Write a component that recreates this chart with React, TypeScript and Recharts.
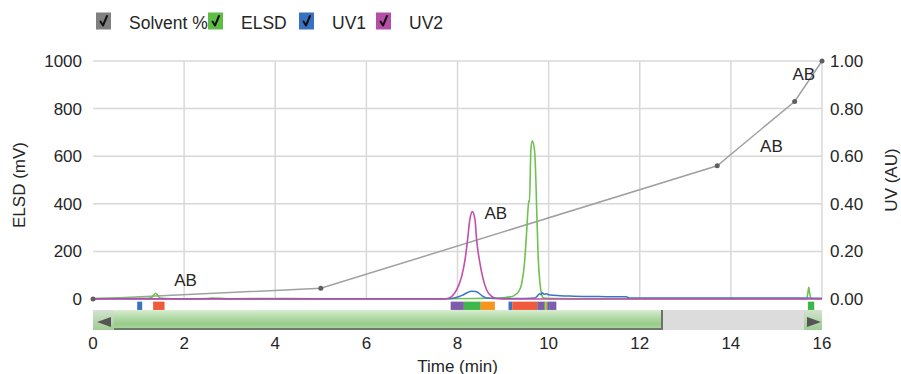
import React from 'react';
import { ComposedChart, Line, XAxis, YAxis, ReferenceLine, ReferenceArea, ReferenceDot } from 'recharts';

// ---------------- data ----------------
const timeTicks = [0, 2, 4, 6, 8, 10, 12, 14, 16];
const elsdTicks = [0, 200, 400, 600, 800, 1000];
const uvTicks = [0, 0.2, 0.4, 0.6, 0.8, 1.0];

const solventTime = [0, 5, 13.7, 15.4, 16];
const solventPercent = [0, 4.5, 56, 83, 100];

const elsdTime = [0, 0.3, 0.6, 0.9, 1.2, 1.28, 1.33, 1.375, 1.42, 1.47, 1.6, 2.0, 2.5, 2.6, 2.8, 3.0, 4.0, 4.9, 6.0, 7.0, 7.8, 8.4, 8.6, 8.9, 9.05, 9.15, 9.23, 9.34, 9.41, 9.47, 9.52, 9.555, 9.57, 9.58, 9.61, 9.64, 9.69, 9.72, 9.74, 9.77, 9.81, 9.85, 9.88, 9.95, 10.2, 11, 12, 13, 14, 15, 15.66, 15.69, 15.71, 15.73, 15.76, 16];
const elsdMv = [2, 3, 4, 3, 3, 5, 16, 24, 16, 4, 2, 1, 2, 4, 3, 1, 2, 1, 1, 1, 1, 2, 3, 4, 6, 9, 13, 31, 66, 150, 290, 395, 415, 408, 626, 665, 626, 500, 360, 178, 66, 17, 5, 3, 2, 1, 1, 1, 1, 1, 1, 25, 49, 25, 1, 1];

const uv1Time = [0, 7.8, 7.95, 8.1, 8.2, 8.31, 8.4, 8.46, 8.55, 8.64, 8.8, 9.5, 9.7, 9.75, 9.8, 9.83, 9.86, 9.9, 9.95, 10.0, 10.25, 10.54, 11.1, 11.7, 11.78, 15.5, 16];
const uv1Au = [0.001, 0.001, 0.005, 0.015, 0.025, 0.033, 0.032, 0.026, 0.012, 0.004, 0.002, 0.002, 0.004, 0.012, 0.022, 0.018, 0.026, 0.02, 0.022, 0.018, 0.014, 0.012, 0.01, 0.009, 0.004, 0.004, 0.003];

const uv2Time = [0, 7.0, 7.69, 7.8, 7.87, 7.98, 8.09, 8.165, 8.22, 8.27, 8.325, 8.385, 8.42, 8.48, 8.55, 8.64, 8.75, 8.86, 9.0, 10.0, 12, 16];
const uv2Au = [0, 0, 0, 0.003, 0.01, 0.038, 0.094, 0.164, 0.248, 0.332, 0.367, 0.332, 0.248, 0.164, 0.094, 0.038, 0.011, 0.002, 0, 0, 0, 0];

const fractionStart = [0.97, 1.32, 7.85, 8.14, 8.51, 9.12, 9.2, 9.75, 9.9, 9.93, 9.97, 10.01, 15.69];
const fractionEnd = [1.08, 1.57, 8.14, 8.51, 8.82, 9.2, 9.75, 9.9, 9.93, 9.97, 10.01, 10.17, 15.83];
const fractionTube = ['blue', 'red', 'purple', 'green', 'orange', 'blue', 'red', 'purple', 'green', 'orange', 'blue', 'purple', 'green'];

const annotationTime = [2.03, 8.84, 14.89, 15.6];
const annotationLevel = [79, 358, 639, 945];
const annotationText = ['AB', 'AB', 'AB', 'AB'];

const seriesNames = ['Solvent %', 'ELSD', 'UV1', 'UV2'];

// ---------------- styles ----------------
const W = 901;
const H = 374;
const FONT = '"Liberation Sans", Arial, sans-serif';
const TEXT = '#262626';
const GRID = '#d8d8d8';
const tubeColor: Record<string, string> = {
  blue: '#3b72c4',
  red: '#ef5a3c',
  purple: '#7d5ca8',
  green: '#3fb64a',
  orange: '#f7941e',
};
const seriesColor = ['#a0a0a0', '#6fc251', '#3d74c6', '#c24ea8'];
const legendBoxColor = ['#808080', '#5fbd46', '#3a70c0', '#b54ea6'];
const legendLeft = [96, 208, 299, 376];
const FRACTION_BAND: [number, number] = [-11, -46];

const toPts = (t: number[], v: number[]) => t.map((x, i) => ({ t: x, v: v[i] }));
const solventData = toPts(solventTime, solventPercent);
const elsdData = toPts(elsdTime, elsdMv);
const uv1Data = toPts(uv1Time, uv1Au);
const uv2Data = toPts(uv2Time, uv2Au);

const LeftTitle = (props: any) => {
  const vb = props.viewBox;
  const cx = vb.x + 19;
  const cy = vb.y + vb.height / 2 + 5;
  return (
    <text x={cx} y={cy} transform={`rotate(-90 ${cx} ${cy})`} textAnchor="middle" dominantBaseline="central" fontSize={17} fill={TEXT} fontFamily={FONT}>
      ELSD (mV)
    </text>
  );
};
const RightTitle = (props: any) => {
  const vb = props.viewBox;
  const cx = vb.x + 69;
  const cy = vb.y + vb.height / 2;
  return (
    <text x={cx} y={cy} transform={`rotate(-90 ${cx} ${cy})`} textAnchor="middle" dominantBaseline="central" fontSize={17} fill={TEXT} fontFamily={FONT}>
      UV (AU)
    </text>
  );
};
const BottomTitle = (props: any) => {
  const vb = props.viewBox;
  return (
    <text x={vb.x + vb.width / 2} y={vb.y + 72.5} textAnchor="middle" fontSize={17} fill={TEXT} fontFamily={FONT}>
      Time (min)
    </text>
  );
};

export default function App() {
  return (
    <div style={{ position: 'absolute', left: 0, top: 0, width: W, height: H, background: '#fff', fontFamily: FONT }}>
      <ComposedChart width={W} height={H} margin={{ top: 61, right: 0, bottom: 0, left: 0 }}>
        <XAxis
          type="number"
          dataKey="t"
          domain={[0, 16]}
          ticks={timeTicks}
          axisLine={false}
          tickLine={false}
          tickSize={0}
          tickMargin={38}
          height={75}
          tick={{ fontSize: 17, fill: TEXT, fontFamily: FONT }}
          label={<BottomTitle />}
        />
        <YAxis
          yAxisId="elsd"
          domain={[0, 1000]}
          ticks={elsdTicks}
          axisLine={false}
          tickLine={false}
          tickSize={0}
          tickMargin={11}
          width={93}
          tick={{ fontSize: 17, fill: TEXT, fontFamily: FONT }}
          label={<LeftTitle />}
        />
        <YAxis
          yAxisId="uv"
          orientation="right"
          domain={[0, 1]}
          ticks={uvTicks}
          tickFormatter={(v: number) => v.toFixed(2)}
          axisLine={false}
          tickLine={false}
          tickSize={0}
          tickMargin={8}
          width={79}
          tick={{ fontSize: 17, fill: TEXT, fontFamily: FONT }}
          label={<RightTitle />}
        />
        <YAxis yAxisId="solvent" hide domain={[0, 100]} />

        {timeTicks.filter((t) => t > 0).map((t) => (
          <ReferenceLine key={'gx' + t} yAxisId="elsd" x={t} stroke={GRID} strokeWidth={1.5} />
        ))}
        {elsdTicks.filter((v) => v > 0).map((v) => (
          <ReferenceLine key={'gy' + v} yAxisId="elsd" y={v} stroke={GRID} strokeWidth={1.5} />
        ))}

        {fractionStart.map((s, i) => (
          <ReferenceArea
            key={'fr' + i}
            yAxisId="elsd"
            x1={s}
            x2={fractionEnd[i]}
            y1={FRACTION_BAND[0]}
            y2={FRACTION_BAND[1]}
            fill={tubeColor[fractionTube[i]]}
            fillOpacity={1}
            stroke="none"
            ifOverflow="visible"
          />
        ))}

        <Line
          data={solventData}
          dataKey="v"
          yAxisId="solvent"
          type="linear"
          stroke={seriesColor[0]}
          strokeWidth={1.5}
          dot={{ r: 2.5, fill: '#5f5f5f', stroke: 'none' }}
          isAnimationActive={false}
          name={seriesNames[0]}
        />
        <Line
          data={elsdData}
          dataKey="v"
          yAxisId="elsd"
          type="monotone"
          stroke={seriesColor[1]}
          strokeWidth={1.6}
          dot={false}
          isAnimationActive={false}
          name={seriesNames[1]}
        />
        <Line
          data={uv1Data}
          dataKey="v"
          yAxisId="uv"
          type="monotone"
          stroke={seriesColor[2]}
          strokeWidth={1.5}
          dot={false}
          isAnimationActive={false}
          name={seriesNames[2]}
        />
        <Line
          data={uv2Data}
          dataKey="v"
          yAxisId="uv"
          type="monotone"
          stroke={seriesColor[3]}
          strokeWidth={1.6}
          dot={false}
          isAnimationActive={false}
          name={seriesNames[3]}
        />

        {annotationTime.map((t, i) => (
          <ReferenceDot
            key={'ab' + i}
            yAxisId="elsd"
            x={t}
            y={annotationLevel[i]}
            r={0}
            ifOverflow="visible"
            shape={(p: any) => (
              <text x={p.cx} y={p.cy} textAnchor="middle" dominantBaseline="central" fontSize={17} fill={TEXT} fontFamily={FONT}>
                {annotationText[i]}
              </text>
            )}
          />
        ))}
      </ComposedChart>

      {/* legend */}
      <svg width={W} height={40} style={{ position: 'absolute', left: 0, top: 0 }}>
        {seriesNames.map((name, i) => (
          <text key={'t' + name} x={legendLeft[i] + 33} y={29.3} fontSize={17.5} fill={TEXT} fontFamily={FONT}>
            {name}
          </text>
        ))}
        {seriesNames.map((name, i) => {
          const x = legendLeft[i];
          return (
            <g key={'b' + name}>
              <rect x={x} y={12.5} width={15} height={17} fill={legendBoxColor[i]} />
              <path d={`M${x + 4.5},${21.5} L${x + 7},${25.5} L${x + 11},${16}`} stroke="#111" strokeWidth={2} fill="none" strokeLinecap="round" strokeLinejoin="round" />
            </g>
          );
        })}
      </svg>

      {/* scrollbar */}
      <svg width={W} height={40} style={{ position: 'absolute', left: 0, top: 305 }}>
        <defs>
          <linearGradient id="thumb" x1="0" y1="0" x2="0" y2="1">
            <stop offset="0%" stopColor="#d8edd0" />
            <stop offset="35%" stopColor="#b5dcaa" />
            <stop offset="70%" stopColor="#98cb8c" />
            <stop offset="100%" stopColor="#addaa2" />
          </linearGradient>
          <linearGradient id="btn" x1="0" y1="0" x2="0" y2="1">
            <stop offset="0%" stopColor="#d3e2cf" />
            <stop offset="100%" stopColor="#9fcd94" />
          </linearGradient>
        </defs>
        <rect x={93} y={5} width={729} height={20} fill="#dcdcdc" />
        <rect x={93} y={5} width={21} height={20} fill="url(#btn)" />
        <path d="M97,17 L111,12 L111,22 Z" fill="#555" />
        <rect x={114} y={5} width={549} height={20} fill="url(#thumb)" />
        <rect x={114} y={23} width={549} height={2} fill="#6c7a69" />
        <rect x={661} y={5} width={2} height={20} fill="#707070" />
        <rect x={804} y={5} width={18} height={20} fill="url(#btn)" />
        <path d="M821,17 L807,12 L807,22 Z" fill="#555" />
      </svg>
    </div>
  );
}
